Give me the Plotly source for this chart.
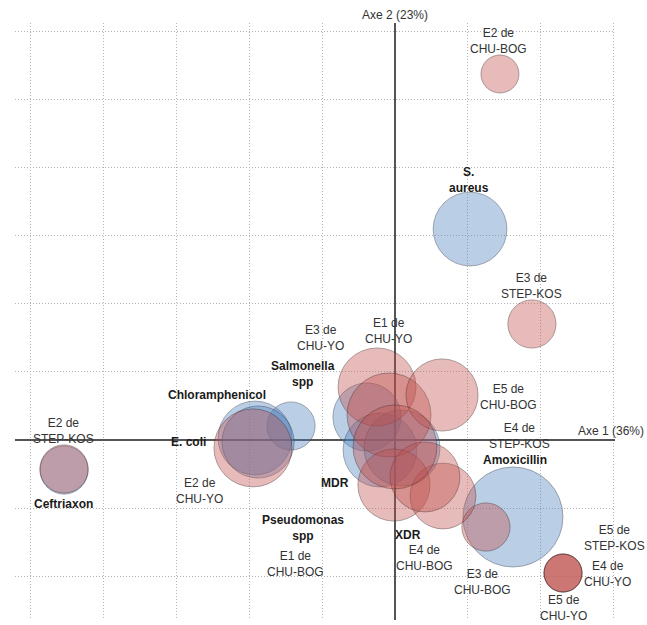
import plotly.graph_objects as go

# --- Modalités des variables (bactéries, antibiotiques, profils de résistance) ---
var_labels = ["S.<br>aureus", "Salmonella<br>spp", "Chloramphenicol", "E. coli", "Ceftriaxon",
              "MDR", "Pseudomonas<br>spp", "XDR", "Amoxicillin"]
var_axe1 = [0.514, -0.712, -0.959, -0.938, -2.267, -0.192, -0.103, 0.048, 0.808]
var_axe2 = [1.551, 0.103, 0.015, -0.015, -0.221, 0.169, -0.074, -0.059, -0.566]
var_poids = [68, 29, 68, 65, 29, 58, 68, 72, 125]

# --- Échantillons (campagnes E1..E5 par site) ---
ech_labels = ["E1 de<br>CHU-YO", "E2 de<br>CHU-YO", "E3 de<br>CHU-YO", "E4 de<br>CHU-YO", "E5 de<br>CHU-YO",
              "E1 de<br>CHU-BOG", "E2 de<br>CHU-BOG", "E3 de<br>CHU-BOG", "E4 de<br>CHU-BOG", "E5 de<br>CHU-BOG",
              "E1 de<br>STEP-KOS", "E2 de<br>STEP-KOS", "E3 de<br>STEP-KOS", "E4 de<br>STEP-KOS", "E5 de<br>STEP-KOS"]
ech_axe1 = [-0.123, -0.973, -0.041, 1.151, 1.151,
            -0.007, 0.719, 0.623, 0.329, 0.322,
            0.205, -2.267, 0.938, 0.000, 1.151]
ech_axe2 = [0.390, -0.058, 0.184, -0.978, -0.978,
            -0.331, 2.691, -0.640, -0.412, 0.331,
            -0.272, -0.213, 0.853, -0.051, -0.978]
ech_poids = [76, 76, 88, 18, 18,
             65, 18, 29, 54, 65,
             61, 29, 29, 88, 18]

axe1_titre = "Axe 1 (36%)"
axe2_titre = "Axe 2 (23%)"

# Placement des étiquettes (décalage en pixels par rapport au centre de la bulle)
var_lbl_shift = [(-1, -49), (12, -52), (-38, -43), (-70, 0), (-1, 34),
                 (-32, 66), (-77, 78), (6, 87), (2, -57)]
ech_lbl_shift = [(11, -56), (-53, 43), (-69, -77), (44, 1), (0, 35),
                 (-98, 79), (-1, -33), (-3, 55), (-19, 62), (66, 2),
                 None, (-1, -38), (0, -38), (124, -11), (51, -35)]

W, H = 647, 625
FONT = "Liberation Sans, Arial, sans-serif"
BLUE = "rgba(79,129,189,0.55)"
RED = "rgba(192,80,77,0.55)"
EDGE_BLUE = "rgba(50,60,80,0.6)"
EDGE_RED = "rgba(70,40,40,0.6)"
SIZEREF = 0.025

fig = go.Figure()
fig.add_trace(go.Scatter(
    x=var_axe1, y=var_axe2, mode="markers", hoverinfo="skip",
    marker=dict(size=var_poids, sizemode="area", sizeref=SIZEREF, color=BLUE,
                line=dict(color=EDGE_BLUE, width=1)),
))
fig.add_trace(go.Scatter(
    x=ech_axe1, y=ech_axe2, mode="markers", hoverinfo="skip",
    marker=dict(size=ech_poids, sizemode="area", sizeref=SIZEREF, color=RED,
                line=dict(color=EDGE_RED, width=1)),
))

annotations = []
for lbl, x, y, sh in zip(var_labels, var_axe1, var_axe2, var_lbl_shift):
    annotations.append(dict(
        x=x, y=y, xref="x", yref="y", text="<b>" + lbl + "</b>", showarrow=False,
        xshift=sh[0], yshift=-sh[1], font=dict(family=FONT, size=12, color="#1a1a1a"),
    ))
for lbl, x, y, sh in zip(ech_labels, ech_axe1, ech_axe2, ech_lbl_shift):
    if sh is None:
        continue
    annotations.append(dict(
        x=x, y=y, xref="x", yref="y", text=lbl, showarrow=False,
        xshift=sh[0], yshift=-sh[1], font=dict(family=FONT, size=12, color="#333333"),
    ))

# Titres des axes factoriels
annotations.append(dict(
    x=0, y=1, xref="x", yref="paper", text=axe2_titre, showarrow=False,
    xanchor="center", yanchor="bottom", yshift=-1,
    font=dict(family=FONT, size=12, color="#333333"),
))
annotations.append(dict(
    x=1, y=0, xref="paper", yref="y", text=axe1_titre, showarrow=False,
    xanchor="right", yanchor="bottom", xshift=31, yshift=0,
    font=dict(family=FONT, size=12, color="#333333"),
))

axis_common = dict(
    showticklabels=False, ticks="", showline=False,
    showgrid=True, gridcolor="#b4b4b4", griddash="1px,2px", gridwidth=1,
    zeroline=True, zerolinecolor="#555555", zerolinewidth=2,
)

fig.update_layout(
    width=W, height=H,
    margin=dict(l=15, r=32, t=23, b=5),
    paper_bgcolor="white", plot_bgcolor="white",
    showlegend=False,
    xaxis=dict(range=[-2.603, 1.507], dtick=0.5, tick0=0, **axis_common),
    yaxis=dict(range=[-1.3235, 3.066], dtick=0.5, tick0=0, **axis_common),
    annotations=annotations,
)

fig.write_html("out.html")
